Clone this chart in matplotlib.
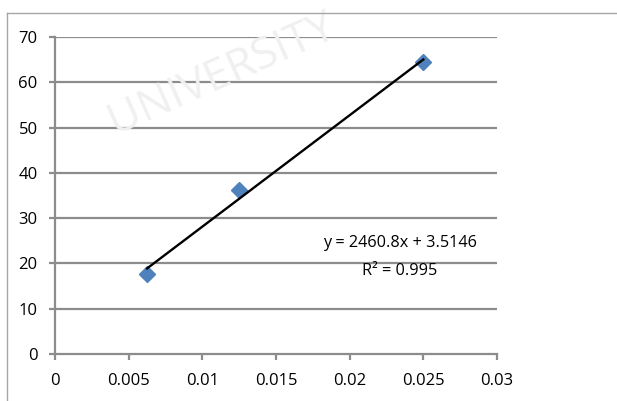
import matplotlib.pyplot as plt
from matplotlib.lines import Line2D
import numpy as np

# data
x_vals = [0.00625, 0.0125, 0.025]
y_vals = [17.7, 36.2, 64.5]
slope = 2460.8
intercept = 3.5146
eq_text = 'y = 2460.8x + 3.5146'
r2_text = 'R² = 0.995'
x_ticks = [0, 0.005, 0.01, 0.015, 0.02, 0.025, 0.03]
x_labels = ['0', '0.005', '0.01', '0.015', '0.02', '0.025', '0.03']
y_ticks = [0, 10, 20, 30, 40, 50, 60, 70]

plt.rcParams['font.family'] = ['Open Sans', 'DejaVu Sans']

W, H = 617, 401
fig = plt.figure(figsize=(W / 100, H / 100), dpi=100)
ax = fig.add_axes([55 / W, (H - 354) / H, (497 - 55) / W, (354 - 37) / H])

# faint watermark behind the chart
fig.text(222 / W, 1 - 74 / H, 'UNIVERSITY', fontsize=32, color='#f0f0f0',
         rotation=24, ha='center', va='center', zorder=0)

# outer chart border (cut off at right and bottom)
fig.add_artist(Line2D([7 / W, 7 / W], [0, 1 - 13 / H], color='#a6a6a6', lw=1))
fig.add_artist(Line2D([7 / W, 1], [1 - 13 / H, 1 - 13 / H], color='#a6a6a6', lw=1))

ax.set_facecolor('none')
grid_col = '#8c8c8c'
for yv in y_ticks[1:]:
    ax.axhline(yv, color=grid_col, lw=1.6, zorder=1)

ax.plot(x_vals, y_vals, linestyle='none', marker='D', markersize=8.5,
        color='#4f81bd', zorder=3)

xt = np.array([x_vals[0], x_vals[-1]])
ax.plot(xt, slope * xt + intercept, color='black', lw=1.7, zorder=4)

ax.text(0.02342, 24.5, eq_text, ha='center', va='center', fontsize=11.7)
ax.text(0.02342, 18.3, r2_text, ha='center', va='center', fontsize=11.7)

ax.set_xlim(0, 0.03)
ax.set_ylim(0, 70)
ax.set_xticks(x_ticks)
ax.set_xticklabels(x_labels)
ax.set_yticks(y_ticks)

for s in ['top', 'right']:
    ax.spines[s].set_visible(False)
for s in ['left', 'bottom']:
    ax.spines[s].set_color(grid_col)
    ax.spines[s].set_linewidth(1.6)
ax.tick_params(direction='out', length=4.5, width=1.6, color=grid_col,
               labelsize=12)
ax.tick_params(axis='y', pad=8)
ax.tick_params(axis='x', pad=9)

fig.savefig('out.png', dpi=100)
